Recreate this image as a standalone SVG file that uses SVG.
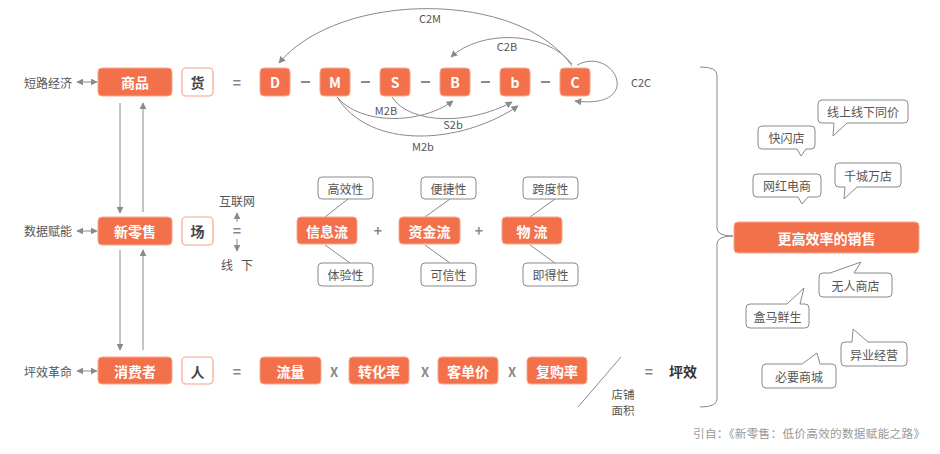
<svg xmlns="http://www.w3.org/2000/svg" width="940" height="454" viewBox="0 0 940 454">
<defs>
<style>
text{font-family:"Noto Sans CJK SC","Noto Sans",sans-serif;dominant-baseline:central;text-anchor:middle}
.ob{fill:#F2704A;stroke:#F8A98D;stroke-width:1}
.ot{fill:#fff;font-size:14px;font-weight:bold}
.wb{fill:#fff;stroke:#F4A48A;stroke-width:1.2}
.wt{fill:#444;font-size:14px;font-weight:bold}
.gb{fill:#fff;stroke:#8a8a8a;stroke-width:1}
.gt{fill:#555;font-size:12px}
.lab{fill:#555;font-size:12px}
.sml{fill:#555;font-size:11px}
.sym{fill:#888;font-size:14px;font-weight:bold}
.x{fill:#888;font-size:13px;font-weight:bold}
.ln{fill:none;stroke:#8a8a8a;stroke-width:1}
.arr{fill:none;stroke:#8a8a8a;stroke-width:1;marker-end:url(#ah)}
.dash{stroke:#8a8a8a;stroke-width:2}
</style>
<marker id="ah" viewBox="0 0 10 10" refX="9" refY="5" markerWidth="7" markerHeight="7" orient="auto-start-reverse" markerUnits="userSpaceOnUse">
<path d="M0,0 L10,5 L0,10 Z" fill="#8a8a8a"/>
</marker>
</defs>
<rect width="940" height="454" fill="#fff"/>

<g id="connectors">
<line class="arr" x1="77" y1="82" x2="97" y2="82" style="marker-start:url(#ah)"/>
<line class="arr" x1="77" y1="231" x2="97" y2="231" style="marker-start:url(#ah)"/>
<line class="arr" x1="77" y1="371" x2="97" y2="371" style="marker-start:url(#ah)"/>
<line class="arr" x1="120" y1="103" x2="120" y2="213"/>
<line class="arr" x1="143" y1="212" x2="143" y2="103"/>
<line class="arr" x1="120" y1="250" x2="120" y2="350"/>
<line class="arr" x1="143" y1="350" x2="143" y2="250"/>
<line class="arr" x1="237" y1="222" x2="237" y2="213"/>
<line class="arr" x1="237" y1="239" x2="237" y2="251"/>
<path class="arr" d="M572,66 C520,-10 340,-10 279,63"/>
<path class="arr" d="M572,64 C545,30 480,30 451,57"/>
<path class="arr" d="M577,65 C615,45 645,110 575,101"/>
<path class="arr" d="M337,97 C360,125 420,125 453,101"/>
<path class="arr" d="M392,97 C410,125 470,125 512,102"/>
<path class="arr" d="M337,97 C370,150 460,145 518,106"/>
<line class="ln" x1="348" y1="199" x2="325" y2="217"/>
<line class="ln" x1="325" y1="245" x2="350" y2="263"/>
<line class="ln" x1="450" y1="199" x2="425" y2="217"/>
<line class="ln" x1="425" y1="245" x2="450" y2="263"/>
<line class="ln" x1="555" y1="199" x2="530" y2="217"/>
<line class="ln" x1="530" y1="245" x2="555" y2="263"/>
<line class="ln" x1="621" y1="357" x2="578" y2="407"/>
<path class="ln" d="M700,67 Q717,67 717,75 V228 Q717,236 733,236 Q717,236 717,244 V399 Q717,407 700,407"/>
<line class="dash" x1="301" y1="82" x2="310" y2="82"/>
<line class="dash" x1="361" y1="82" x2="370" y2="82"/>
<line class="dash" x1="421" y1="82" x2="430" y2="82"/>
<line class="dash" x1="481" y1="82" x2="490" y2="82"/>
<line class="dash" x1="541" y1="82" x2="550" y2="82"/>
</g>

<g id="arc-labels">
<text class="sml" x="430" y="18">C2M</text>
<text class="sml" x="507" y="46">C2B</text>
<text class="sml" x="641" y="82">C2C</text>
<text class="sml" x="386" y="110">M2B</text>
<text class="sml" x="453" y="124">S2b</text>
<text class="sml" x="423" y="146">M2b</text>
</g>

<g id="row-labels">
<text class="lab" x="24" y="82" style="text-anchor:start">短路经济</text>
<text class="lab" x="24" y="230" style="text-anchor:start">数据赋能</text>
<text class="lab" x="24" y="371" style="text-anchor:start">坪效革命</text>
</g>

<g id="n-shangpin"><rect class="ob" x="98" y="68" width="74" height="28" rx="4"/><text class="ot" x="135" y="82">商品</text></g>
<g id="n-huo"><rect class="wb" x="182" y="68" width="31" height="28" rx="4"/><text class="wt" x="197.5" y="82">货</text></g>
<text class="sym" x="237" y="82">=</text>
<g id="n-D"><rect class="ob" x="260" y="68" width="30" height="28" rx="4"/><text class="ot" x="275" y="82">D</text></g>
<g id="n-M"><rect class="ob" x="320" y="68" width="30" height="28" rx="4"/><text class="ot" x="335" y="82">M</text></g>
<g id="n-S"><rect class="ob" x="380" y="68" width="30" height="28" rx="4"/><text class="ot" x="395" y="82">S</text></g>
<g id="n-B"><rect class="ob" x="440" y="68" width="30" height="28" rx="4"/><text class="ot" x="455" y="82">B</text></g>
<g id="n-b"><rect class="ob" x="500" y="68" width="30" height="28" rx="4"/><text class="ot" x="515" y="82">b</text></g>
<g id="n-C"><rect class="ob" x="560" y="68" width="30" height="28" rx="4"/><text class="ot" x="575" y="82">C</text></g>

<g id="n-xinlingshou"><rect class="ob" x="98" y="217" width="74" height="28" rx="4"/><text class="ot" x="135" y="231">新零售</text></g>
<g id="n-chang"><rect class="wb" x="182" y="217" width="31" height="28" rx="4"/><text class="wt" x="197.5" y="231">场</text></g>
<text class="lab" x="237" y="200">互联网</text>
<text class="sym" x="237" y="230">=</text>
<text class="lab" x="227" y="264">线</text>
<text class="lab" x="247" y="264">下</text>

<g id="n-gaoxiao"><rect class="gb" x="318" y="177" width="55" height="22" rx="4"/><text class="gt" x="345.5" y="188">高效性</text></g>
<g id="n-xinxi"><rect class="ob" x="297" y="217" width="60" height="27" rx="4"/><text class="ot" x="327" y="230.5">信息流</text></g>
<g id="n-tiyan"><rect class="gb" x="318" y="263" width="55" height="23" rx="4"/><text class="gt" x="345.5" y="274.5">体验性</text></g>
<text class="sym" x="378" y="230">+</text>
<g id="n-bianjie"><rect class="gb" x="421" y="177" width="55" height="22" rx="4"/><text class="gt" x="448.5" y="188">便捷性</text></g>
<g id="n-zijin"><rect class="ob" x="399" y="217" width="61" height="27" rx="4"/><text class="ot" x="429.5" y="230.5">资金流</text></g>
<g id="n-kexin"><rect class="gb" x="421" y="263" width="55" height="23" rx="4"/><text class="gt" x="448.5" y="274.5">可信性</text></g>
<text class="sym" x="479" y="230">+</text>
<g id="n-kuadu"><rect class="gb" x="523" y="177" width="55" height="22" rx="4"/><text class="gt" x="550.5" y="188">跨度性</text></g>
<g id="n-wuliu"><rect class="ob" x="502" y="217" width="60" height="27" rx="4"/><text class="ot" x="532" y="230.5">物 流</text></g>
<g id="n-jide"><rect class="gb" x="523" y="263" width="55" height="23" rx="4"/><text class="gt" x="550.5" y="274.5">即得性</text></g>

<g id="n-xiaofeizhe"><rect class="ob" x="98" y="357" width="74" height="27" rx="4"/><text class="ot" x="135" y="370.5">消费者</text></g>
<g id="n-ren"><rect class="wb" x="182" y="357" width="31" height="27" rx="4"/><text class="wt" x="197.5" y="370.5">人</text></g>
<text class="sym" x="237" y="371">=</text>
<g id="n-liuliang"><rect class="ob" x="260" y="357" width="61" height="27" rx="4"/><text class="ot" x="290.5" y="370.5">流量</text></g>
<text class="x" x="334" y="371">X</text>
<g id="n-zhuanhua"><rect class="ob" x="349" y="357" width="60" height="27" rx="4"/><text class="ot" x="379" y="370.5">转化率</text></g>
<text class="x" x="425" y="371">X</text>
<g id="n-kedanjia"><rect class="ob" x="438" y="357" width="60" height="27" rx="4"/><text class="ot" x="468" y="370.5">客单价</text></g>
<text class="x" x="512" y="371">X</text>
<g id="n-fugou"><rect class="ob" x="527" y="357" width="60" height="27" rx="4"/><text class="ot" x="557" y="370.5">复购率</text></g>
<text class="lab" x="623" y="394" style="font-size:11.5px">店铺</text>
<text class="lab" x="623" y="410" style="font-size:11.5px">面积</text>
<text class="sym" x="649" y="371">=</text>
<text x="683" y="371" style="fill:#333;font-size:14px;font-weight:bold">坪效</text>

<g id="n-sales"><rect class="ob" x="734" y="222" width="185" height="31" rx="4"/><text class="ot" x="826.5" y="237.5">更高效率的销售</text></g>

<g id="b1"><path class="gb" d="M822,100 H904 Q908,100 908,104 V119 Q908,123 904,123 H847 L833,136 L834,123 H822 Q818,123 818,119 V104 Q818,100 822,100 Z"/><text class="gt" x="863" y="111.5">线上线下同价</text></g>
<g id="b2"><path class="gb" d="M762,126 H811 Q815,126 815,130 V145 Q815,149 811,149 H806 L801,156 L797,149 H762 Q758,149 758,145 V130 Q758,126 762,126 Z"/><text class="gt" x="786.5" y="137.5">快闪店</text></g>
<g id="b3"><path class="gb" d="M757,174 H817 Q821,174 821,178 V193 Q821,197 817,197 H808 L802,204 L798,197 H757 Q753,197 753,193 V178 Q753,174 757,174 Z"/><text class="gt" x="787" y="185.5">网红电商</text></g>
<g id="b4"><path class="gb" d="M839,163 H897 Q901,163 901,167 V183 Q901,187 897,187 H857 L844,199 L845,187 H839 Q835,187 835,183 V167 Q835,163 839,163 Z"/><text class="gt" x="868" y="175">千城万店</text></g>
<g id="b5"><path class="gb" d="M823,273 H830 L861,262 L854,273 H888 Q892,273 892,277 V293 Q892,297 888,297 H823 Q819,297 819,293 V277 Q819,273 823,273 Z"/><text class="gt" x="855.5" y="285">无人商店</text></g>
<g id="b6"><path class="gb" d="M750,304 H787 L804,288 L800,304 H805 Q809,304 809,308 V324 Q809,328 805,328 H750 Q746,328 746,324 V308 Q746,304 750,304 Z"/><text class="gt" x="777.5" y="316">盒马鲜生</text></g>
<g id="b7"><path class="gb" d="M845,342 H852 L853,329 L868,342 H903 Q907,342 907,346 V362 Q907,366 903,366 H845 Q841,366 841,362 V346 Q841,342 845,342 Z"/><text class="gt" x="874" y="354">异业经营</text></g>
<g id="b8"><path class="gb" d="M766,364 H802 L817,353 L820,364 H832 Q836,364 836,368 V384 Q836,388 832,388 H766 Q762,388 762,384 V368 Q762,364 766,364 Z"/><text class="gt" x="799" y="376">必要商城</text></g>

<text x="693" y="433" textLength="232" lengthAdjust="spacing" style="fill:#999;font-size:11.6px;text-anchor:start">引自：《新零售：低价高效的数据赋能之路》</text>
</svg>
